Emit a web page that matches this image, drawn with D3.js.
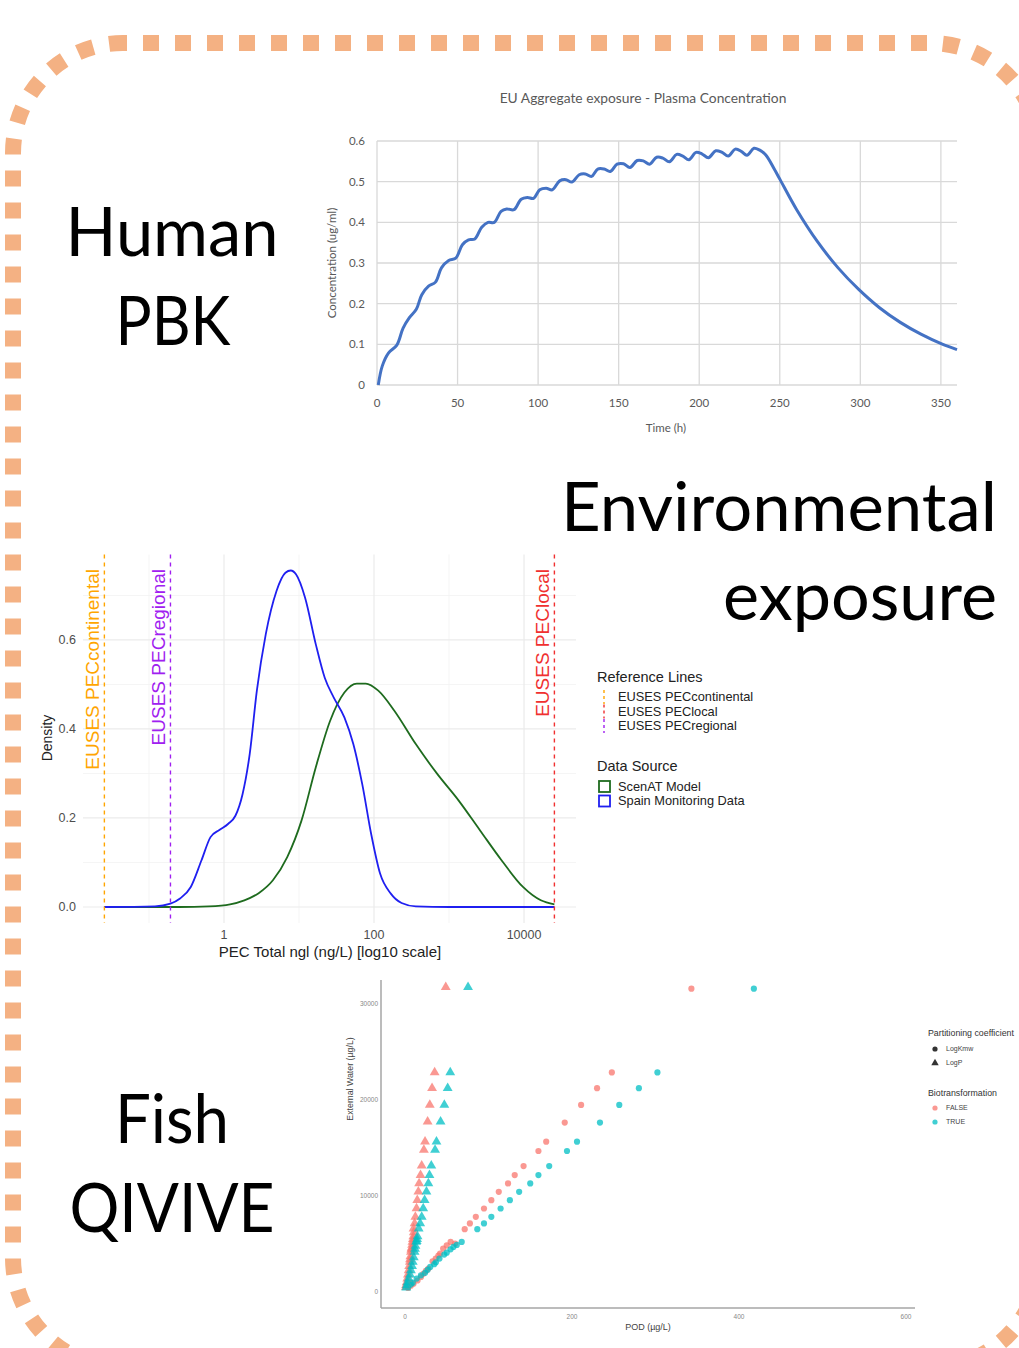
<!DOCTYPE html>
<html><head><meta charset="utf-8">
<script src="https://cdn.jsdelivr.net/npm/d3@7"></script>
<style>
html,body{margin:0;padding:0;background:#fff;}
svg{display:block;}
</style></head>
<body>
<script>
// ---------- DATA ----------
// Panel labels
const panelLabels = [["Human","PBK"],["Environmental","exposure"],["Fish","QIVIVE"]];

// Top chart: PBK plasma concentration
const pbkTitle = "EU Aggregate exposure - Plasma Concentration";
const pbkTime = [0.8,3.3,7.2,12.3,16.2,20,24.4,27.8,32,36.3,40,44.5,48.9,53,56.8,60.7,65,68.9,72.8,77,80.5,85,89.5,93.3,97.2,101,105,108.8,113.4,117.3,121,125.5,129.3,133.2,137,141,144.8,149,153,157,161.5,165.3,169.2,173.6,177.4,181.5,186,189.8,193.6,198,201.8,205.7,210.3,214.2,218,222.4,226.3,229.6,234,237.3,241.2,246.3,250.2,260.5,273.3,286.2,299,311.9,324.8,337.6,350.5,360];
const pbkConc = [0,0.047,0.079,0.098,0.14,0.165,0.186,0.222,0.243,0.253,0.288,0.306,0.312,0.345,0.357,0.359,0.388,0.400,0.400,0.427,0.433,0.431,0.457,0.461,0.459,0.480,0.484,0.480,0.502,0.505,0.499,0.517,0.519,0.513,0.531,0.531,0.525,0.543,0.544,0.535,0.552,0.551,0.543,0.560,0.558,0.549,0.567,0.563,0.554,0.572,0.568,0.559,0.576,0.572,0.563,0.580,0.574,0.565,0.582,0.578,0.566,0.533,0.505,0.431,0.353,0.288,0.235,0.190,0.154,0.125,0.101,0.087];
const pbkXTicks = [0,50,100,150,200,250,300,350];
const pbkYTicks = [0,0.1,0.2,0.3,0.4,0.5,0.6];

// Middle chart: density of PEC (log10 of ng/L)
const spainLog = [-1.595,-0.92,-0.714,-0.586,-0.443,-0.3,-0.18,-0.062,0.057,0.152,0.248,0.343,0.438,0.557,0.7,0.819,0.89,0.962,1.081,1.224,1.343,1.462,1.605,1.724,1.843,1.962,2.081,2.224,2.367,2.557,3.0,4.405];
const spainDens = [0,0.0015,0.0075,0.019,0.045,0.105,0.157,0.173,0.187,0.205,0.254,0.344,0.486,0.613,0.71,0.751,0.756,0.747,0.695,0.59,0.515,0.471,0.426,0.366,0.276,0.164,0.075,0.03,0.009,0.0015,0,0];
const scenLog = [-1.595,-0.6,-0.2,0.081,0.271,0.462,0.652,0.843,1.033,1.224,1.414,1.605,1.771,1.89,2.057,2.271,2.557,2.843,3.129,3.414,3.7,3.986,4.224,4.405];
const scenDens = [0,0,0.0015,0.006,0.015,0.031,0.06,0.112,0.194,0.314,0.418,0.482,0.502,0.502,0.486,0.441,0.366,0.299,0.239,0.172,0.105,0.045,0.015,0.006];
const refNames = ["EUSES PECcontinental","EUSES PEClocal","EUSES PECregional"];
const refLog = [-1.595,4.405,-0.714];
const refColors = ["#FFA500","#F03030","#A020F0"];
const envXTicks = [1,100,10000];
const envXMinor = [0.1,10,1000];
const envYTicks = [0,0.2,0.4,0.6];
const envYMinor = [0.1,0.3,0.5,0.7];
const sourceNames = ["ScenAT Model","Spain Monitoring Data"];
const sourceColors = ["#1E6B1E","#1F1FF0"];

// Bottom chart: QIVIVE
const triFalseX = [48.8,35.5,32.4,29.7,27.1,24,22.6,20,18.6,16.9,16,14.7,13.8,12.4,11.5,10.2,10.5,10,9.5,8.9,8.5,8,7.5,7.1,6.5,6,5.8,5,4.4,3.5,2.7,2,1.3,1];
const triFalseY = [31750,22870,21230,19490,17750,15660,14790,13160,12180,11310,10440,9570,8700,7830,7140,6610,6200,5800,5500,5220,4900,4600,4400,4180,3700,3400,3130,2700,2260,1800,1390,1000,700,500];
const triTrueX = [75.5,54.2,51.1,47.1,42.6,37.7,36,31.5,29.3,28,25.7,23.5,21.8,20,18.2,16.4,15,14.5,14,13.3,12.5,12,11.5,10.5,9.3,8.5,7.1,6,4.4,3,2.2,1.5];
const triTrueY = [31750,22870,21230,19490,17750,15660,14790,13160,12180,11310,10440,9570,8700,7830,7140,6610,5800,5500,5300,5220,4800,4500,4180,3600,3130,2700,2260,1800,1390,1000,700,450];
const cirFalseX = [343,247.7,230,210.9,191.3,169.1,159.8,142,131.4,123.4,112.3,103.4,94.6,84.8,77.7,71.5,60,54.6,50,45.7,42,40,36.8,33,28,25,22,19.1,15,10.2,7,3.6];
const cirFalseY = [31600,22870,21230,19490,17650,15660,14690,13120,12180,11310,10440,9570,8700,7830,7140,6540,5050,5220,4850,4520,4000,3800,3480,3200,2440,2200,1900,1570,1200,870,650,420];
const cirTrueX = [417.8,302.3,280.1,256.6,233.5,206,194,172.7,159.8,150,136.7,125.6,114.5,103.4,94.6,86.6,67.9,62,58,54.6,50,47,41.3,37,35,30.2,27,24,19.1,14,9.3,7,3.6];
const cirTrueY = [31600,22870,21230,19490,17650,15660,14690,13120,12180,11310,10440,9570,8700,7830,7140,6540,5220,4900,4700,4450,4100,3900,3480,3100,2900,2610,2300,2000,1740,1400,970,800,520];
const qXTicks = [0,200,400,600];
const qYTicks = [0,10000,20000,30000];
const partNames = ["LogKmw","LogP"];
const bioNames = ["FALSE","TRUE"];
const bioColors = ["#F8766D","#00BFC4"];

// ---------- DRAW ----------
const W = 1019, H = 1348;
const svg = d3.select("body").append("svg").attr("width", W).attr("height", H);
svg.append("rect").attr("width", W).attr("height", H).attr("fill", "#fff");

// dashed rounded border
svg.append("rect").attr("x", 13).attr("y", 43).attr("width", 1027).attr("height", 1324.8)
  .attr("rx", 110).attr("ry", 110).attr("fill", "none")
  .attr("stroke", "#F4B183").attr("stroke-width", 16)
  .attr("stroke-dasharray", "16 16").attr("stroke-dashoffset", 12);

// big labels
const bigFont = "Lato, 'Open Sans', sans-serif";
function big(t, x, y, anchor, len) {
  svg.append("text").attr("x", x).attr("y", y).attr("text-anchor", anchor)
    .attr("font-family", bigFont).attr("font-size", 68).attr("fill", "#000")
    .attr("textLength", len).attr("lengthAdjust", "spacingAndGlyphs").text(t);
}
big(panelLabels[0][0], 172, 256, "middle", 213);
big(panelLabels[0][1], 173, 345, "middle", 115);
big(panelLabels[1][0], 997, 531, "end", 436);
big(panelLabels[1][1], 997, 620, "end", 274);
big(panelLabels[2][0], 172, 1143, "middle", 114);
big(panelLabels[2][1], 172, 1232, "middle", 205);

// ===== Top chart =====
{
  const g = svg.append("g");
  const x = d3.scaleLinear().domain([0, 360]).range([377, 957]);
  const y = d3.scaleLinear().domain([0, 0.6]).range([385, 141]);
  const font = "Lato, 'Open Sans', sans-serif";
  const grey = "#595959";
  g.selectAll(".hg").data(pbkYTicks).join("line")
    .attr("x1", x(0)).attr("x2", x(360)).attr("y1", d => y(d)).attr("y2", d => y(d))
    .attr("stroke", "#D9D9D9").attr("stroke-width", 1.3);
  g.selectAll(".vg").data(pbkXTicks).join("line")
    .attr("x1", d => x(d)).attr("x2", d => x(d)).attr("y1", y(0)).attr("y2", y(0.6))
    .attr("stroke", "#D9D9D9").attr("stroke-width", 1.3);
  g.selectAll(".yl").data(pbkYTicks).join("text")
    .attr("x", x(0) - 12).attr("y", d => y(d)).attr("dy", "0.35em").attr("text-anchor", "end")
    .attr("font-family", font).attr("font-size", 11.5).attr("fill", grey).text(d => d);
  g.selectAll(".xl").data(pbkXTicks).join("text")
    .attr("x", d => x(d)).attr("y", 407).attr("text-anchor", "middle")
    .attr("font-family", font).attr("font-size", 11.5).attr("fill", grey).text(d => d);
  g.append("text").attr("x", 643).attr("y", 103).attr("text-anchor", "middle")
    .attr("font-family", font).attr("font-size", 13.8).attr("fill", grey).text(pbkTitle);
  g.append("text").attr("transform", "translate(336,263) rotate(-90)").attr("text-anchor", "middle")
    .attr("font-family", font).attr("font-size", 11.5).attr("fill", grey).text("Concentration (ug/ml)");
  g.append("text").attr("x", 666).attr("y", 432).attr("text-anchor", "middle")
    .attr("font-family", font).attr("font-size", 11.5).attr("fill", grey).text("Time (h)");
  const line = d3.line().x((d, i) => x(pbkTime[i])).y((d, i) => y(pbkConc[i])).curve(d3.curveCatmullRom);
  g.append("path").attr("d", line(pbkTime)).attr("fill", "none")
    .attr("stroke", "#4472C4").attr("stroke-width", 3).attr("stroke-linejoin", "round");
}

// ===== Middle chart =====
{
  const g = svg.append("g");
  const x = d3.scaleLog().domain([Math.pow(10, -1.88), Math.pow(10, 4.693)]).range([83, 576]);
  const y = d3.scaleLinear().domain([-0.036, 0.792]).range([923, 554.5]);
  const font = "'Liberation Sans', Arial, sans-serif";
  const tickCol = "#4D4D4D";
  // minor grid
  g.selectAll(".ym").data(envYMinor).join("line")
    .attr("x1", 83).attr("x2", 576).attr("y1", d => y(d)).attr("y2", d => y(d))
    .attr("stroke", "#F2F2F2").attr("stroke-width", 0.8);
  g.selectAll(".xm").data(envXMinor).join("line")
    .attr("x1", d => x(d)).attr("x2", d => x(d)).attr("y1", 554.5).attr("y2", 923)
    .attr("stroke", "#F2F2F2").attr("stroke-width", 0.8);
  // major grid
  g.selectAll(".yM").data(envYTicks).join("line")
    .attr("x1", 83).attr("x2", 576).attr("y1", d => y(d)).attr("y2", d => y(d))
    .attr("stroke", "#EBEBEB").attr("stroke-width", 1.2);
  g.selectAll(".xM").data(envXTicks).join("line")
    .attr("x1", d => x(d)).attr("x2", d => x(d)).attr("y1", 554.5).attr("y2", 923)
    .attr("stroke", "#EBEBEB").attr("stroke-width", 1.2);
  // tick labels
  g.selectAll(".yl").data(envYTicks).join("text")
    .attr("x", 76).attr("y", d => y(d)).attr("dy", "0.35em").attr("text-anchor", "end")
    .attr("font-family", font).attr("font-size", 12.5).attr("fill", tickCol).text(d => d.toFixed(1));
  g.selectAll(".xl").data(envXTicks).join("text")
    .attr("x", d => x(d)).attr("y", 939).attr("text-anchor", "middle")
    .attr("font-family", font).attr("font-size", 12.5).attr("fill", tickCol).text(d => d);
  g.append("text").attr("x", 330).attr("y", 957).attr("text-anchor", "middle")
    .attr("font-family", font).attr("font-size", 15).attr("fill", "#222").text("PEC Total ngl (ng/L) [log10 scale]");
  g.append("text").attr("transform", "translate(52,738) rotate(-90)").attr("text-anchor", "middle")
    .attr("font-family", font).attr("font-size", 14).attr("fill", "#222").text("Density");
  // curves
  const mk = (xs, ys) => d3.line().x((d, i) => x(Math.pow(10, xs[i]))).y((d, i) => y(ys[i])).curve(d3.curveMonotoneX)(xs);
  g.append("path").attr("d", mk(scenLog, scenDens)).attr("fill", "none")
    .attr("stroke", sourceColors[0]).attr("stroke-width", 1.8);
  g.append("path").attr("d", mk(spainLog, spainDens)).attr("fill", "none")
    .attr("stroke", sourceColors[1]).attr("stroke-width", 1.8);
  // reference lines
  refLog.forEach((v, i) => {
    const xv = x(Math.pow(10, v));
    g.append("line").attr("x1", xv).attr("x2", xv).attr("y1", 554.5).attr("y2", 923)
      .attr("stroke", refColors[i]).attr("stroke-width", 1.4).attr("stroke-dasharray", "4 4");
    g.append("text").attr("transform", `translate(${xv - 5},569) rotate(-90)`)
      .attr("text-anchor", "end").attr("font-family", font).attr("font-size", 19)
      .attr("fill", refColors[i]).text(refNames[i]);
  });
  // legend
  g.append("text").attr("x", 597).attr("y", 682).attr("font-family", font).attr("font-size", 14.5)
    .attr("fill", "#222").text("Reference Lines");
  refNames.forEach((n, i) => {
    const yy = 697 + i * 14.5;
    g.append("line").attr("x1", 604).attr("x2", 604).attr("y1", yy - 7).attr("y2", yy + 7)
      .attr("stroke", refColors[i]).attr("stroke-width", 1.4).attr("stroke-dasharray", "3 3");
    g.append("text").attr("x", 618).attr("y", yy).attr("dy", "0.35em").attr("font-family", font)
      .attr("font-size", 12.8).attr("fill", "#222").text(n);
  });
  g.append("text").attr("x", 597).attr("y", 771).attr("font-family", font).attr("font-size", 14.5)
    .attr("fill", "#222").text("Data Source");
  sourceNames.forEach((n, i) => {
    const yy = 786.5 + i * 14.5;
    g.append("rect").attr("x", 599).attr("y", yy - 5.5).attr("width", 11).attr("height", 11)
      .attr("fill", "none").attr("stroke", sourceColors[i]).attr("stroke-width", 1.8);
    g.append("text").attr("x", 618).attr("y", yy).attr("dy", "0.35em").attr("font-family", font)
      .attr("font-size", 12.8).attr("fill", "#222").text(n);
  });
}

// ===== Bottom chart =====
{
  const g = svg.append("g");
  const x = d3.scaleLinear().domain([0, 600]).range([405, 906]);
  const y = d3.scaleLinear().domain([0, 30000]).range([1292, 1004]);
  const font = "'Liberation Sans', Arial, sans-serif";
  g.append("line").attr("x1", 381).attr("x2", 381).attr("y1", 980).attr("y2", 1308)
    .attr("stroke", "#A6A6A6").attr("stroke-width", 1.5);
  g.append("line").attr("x1", 381).attr("x2", 915).attr("y1", 1308).attr("y2", 1308)
    .attr("stroke", "#A6A6A6").attr("stroke-width", 1.5);
  g.selectAll(".yl").data(qYTicks).join("text")
    .attr("x", 378).attr("y", d => y(d)).attr("dy", "0.35em").attr("text-anchor", "end")
    .attr("font-family", font).attr("font-size", 6.5).attr("fill", "#888").text(d => d);
  g.selectAll(".xl").data(qXTicks).join("text")
    .attr("x", d => x(d)).attr("y", 1319).attr("text-anchor", "middle")
    .attr("font-family", font).attr("font-size", 6.5).attr("fill", "#888").text(d => d);
  g.append("text").attr("x", 648).attr("y", 1330).attr("text-anchor", "middle")
    .attr("font-family", font).attr("font-size", 9).attr("fill", "#444").text("POD (µg/L)");
  g.append("text").attr("transform", "translate(353,1079) rotate(-90)").attr("text-anchor", "middle")
    .attr("font-family", font).attr("font-size", 8.8).attr("fill", "#444").text("External Water (µg/L)");
  const tri = d3.symbol().type(d3.symbolTriangle).size(42);
  const drawCircles = (xs, ys, col) => g.append("g").selectAll("circle").data(xs).join("circle")
    .attr("cx", (d, i) => x(xs[i])).attr("cy", (d, i) => y(ys[i])).attr("r", 3.1)
    .attr("fill", col).attr("fill-opacity", 0.75);
  const drawTris = (xs, ys, col) => g.append("g").selectAll("path").data(xs).join("path")
    .attr("d", tri).attr("transform", (d, i) => `translate(${x(xs[i])},${y(ys[i])})`)
    .attr("fill", col).attr("fill-opacity", 0.75);
  drawCircles(cirFalseX, cirFalseY, bioColors[0]);
  drawCircles(cirTrueX, cirTrueY, bioColors[1]);
  drawTris(triFalseX, triFalseY, bioColors[0]);
  drawTris(triTrueX, triTrueY, bioColors[1]);
  // legend
  g.append("text").attr("x", 928).attr("y", 1036).attr("font-family", font).attr("font-size", 8.8)
    .attr("fill", "#333").text("Partitioning coefficient");
  g.append("circle").attr("cx", 935).attr("cy", 1049).attr("r", 2.6).attr("fill", "#333");
  g.append("path").attr("d", d3.symbol().type(d3.symbolTriangle).size(24)).attr("transform", "translate(935,1063)").attr("fill", "#333");
  partNames.forEach((n, i) => g.append("text").attr("x", 946).attr("y", 1049 + i * 14).attr("dy", "0.35em")
    .attr("font-family", font).attr("font-size", 7).attr("fill", "#444").text(n));
  g.append("text").attr("x", 928).attr("y", 1096).attr("font-family", font).attr("font-size", 8.8)
    .attr("fill", "#333").text("Biotransformation");
  bioNames.forEach((n, i) => {
    g.append("circle").attr("cx", 935).attr("cy", 1108 + i * 14).attr("r", 2.6).attr("fill", bioColors[i]).attr("fill-opacity", 0.75);
    g.append("text").attr("x", 946).attr("y", 1108 + i * 14).attr("dy", "0.35em")
      .attr("font-family", font).attr("font-size", 7).attr("fill", "#444").text(n);
  });
}
</script>
</body></html>
